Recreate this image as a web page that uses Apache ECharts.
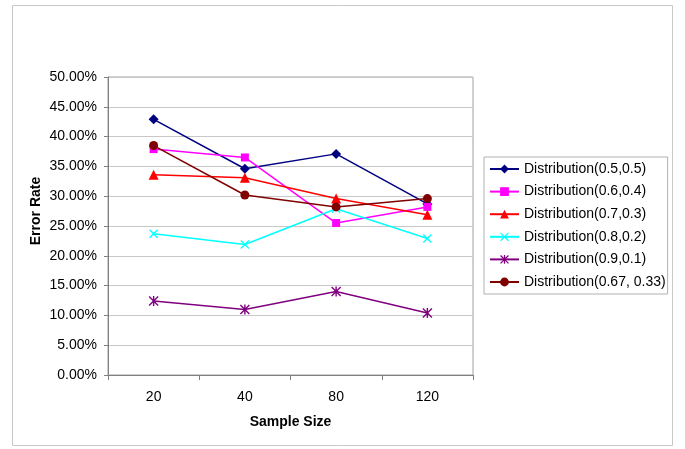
<!DOCTYPE html>
<html><head><meta charset="utf-8">
<script src="https://cdn.jsdelivr.net/npm/echarts@6/dist/echarts.min.js"></script>
<style>html,body{margin:0;padding:0;background:#fff}#c{width:685px;height:449px}</style>
</head><body><div id="c"></div>
<script>
const categories = ['20', '40', '80', '120'];
const seriesNames = ['Distribution(0.5,0.5)', 'Distribution(0.6,0.4)', 'Distribution(0.7,0.3)', 'Distribution(0.8,0.2)', 'Distribution(0.9,0.1)', 'Distribution(0.67, 0.33)'];
const d55 = [0.429, 0.346, 0.371, 0.287];
const d64 = [0.379, 0.365, 0.255, 0.282];
const d73 = [0.336, 0.331, 0.296, 0.269];
const d82 = [0.237, 0.219, 0.279, 0.229];
const d91 = [0.124, 0.110, 0.140, 0.104];
const d6733 = [0.385, 0.302, 0.282, 0.296];
const yTicks = [0, 0.05, 0.10, 0.15, 0.20, 0.25, 0.30, 0.35, 0.40, 0.45, 0.50];

const colors = ['#000080', '#FF00FF', '#FF0000', '#00FFFF', '#800080', '#800000'];
const xSym = 'path://M0,1 L1,0 L5,4 L9,0 L10,1 L6,5 L10,9 L9,10 L5,6 L1,10 L0,9 L4,5 Z';
const starSym = 'path://M0,1 L1,0 L5,4 L9,0 L10,1 L6,5 L10,9 L9,10 L5,6 L1,10 L0,9 L4,5 Z M4.3,0 L5.7,0 L5.7,10 L4.3,10 Z';
const symbols = ['diamond', 'rect', 'triangle', xSym, starSym, 'circle'];
const sizes = [10, 8, 10, 9, 10, 9];
const dataSets = [d55, d64, d73, d82, d91, d6733];

const chart = echarts.init(document.getElementById('c'));
const font = 'Arial, "Liberation Sans", sans-serif';
chart.setOption({
  animation: false,
  backgroundColor: '#fff',
  textStyle: { fontFamily: font },
  graphic: [{
    type: 'rect', shape: { x: 12.5, y: 5.5, width: 660, height: 440 },
    style: { fill: 'none', stroke: '#c8c8c8', lineWidth: 1 }, z: -1
  }],
  grid: { left: 108, right: 212, top: 77, bottom: 74, show: true, borderColor: '#a0a0a0', borderWidth: 1, backgroundColor: '#fff' },
  legend: {
    orient: 'vertical', left: 484, top: 157,
    data: seriesNames,
    borderColor: '#b0b0b0', borderWidth: 1, borderRadius: 0,
    padding: [4, 2, 4, 5],
    itemWidth: 29, itemHeight: 11, itemGap: 6.6,
    textStyle: { fontSize: 14, color: '#000', fontFamily: font, lineHeight: 16 }
  },
  xAxis: {
    type: 'category', data: categories, boundaryGap: true,
    name: 'Sample Size', nameLocation: 'middle', nameGap: 40, nameMoveOverlap: false,
    nameTextStyle: { fontSize: 14, fontWeight: 'bold', color: '#000', fontFamily: font },
    axisLine: { lineStyle: { color: '#808080', width: 1 } },
    axisTick: { show: true, length: 5, lineStyle: { color: '#808080' } },
    axisLabel: { fontSize: 14, color: '#000', margin: 15, fontFamily: font }
  },
  yAxis: {
    type: 'value', min: yTicks[0], max: yTicks[yTicks.length - 1], interval: 0.05,
    name: 'Error Rate', nameLocation: 'middle', nameGap: 65, nameRotate: 90, nameMoveOverlap: false,
    nameTextStyle: { fontSize: 14, fontWeight: 'bold', color: '#000', fontFamily: font, padding: [0, 0, 0, 30] },
    axisLine: { show: true, lineStyle: { color: '#808080', width: 1 } },
    axisTick: { show: true, length: 4, lineStyle: { color: '#808080' } },
    axisLabel: { fontSize: 14, color: '#000', margin: 11, fontFamily: font, formatter: v => (v * 100).toFixed(2) + '%' },
    splitLine: { lineStyle: { color: '#c8c8c8', width: 1 } }
  },
  series: dataSets.map((d, i) => ({
    name: seriesNames[i], type: 'line', data: d,
    symbol: symbols[i], symbolSize: sizes[i], showAllSymbol: true,
    lineStyle: { color: colors[i], width: 1.5 },
    itemStyle: { color: colors[i], borderWidth: 0 },
    emphasis: { disabled: true }
  }))
});
</script></body></html>
